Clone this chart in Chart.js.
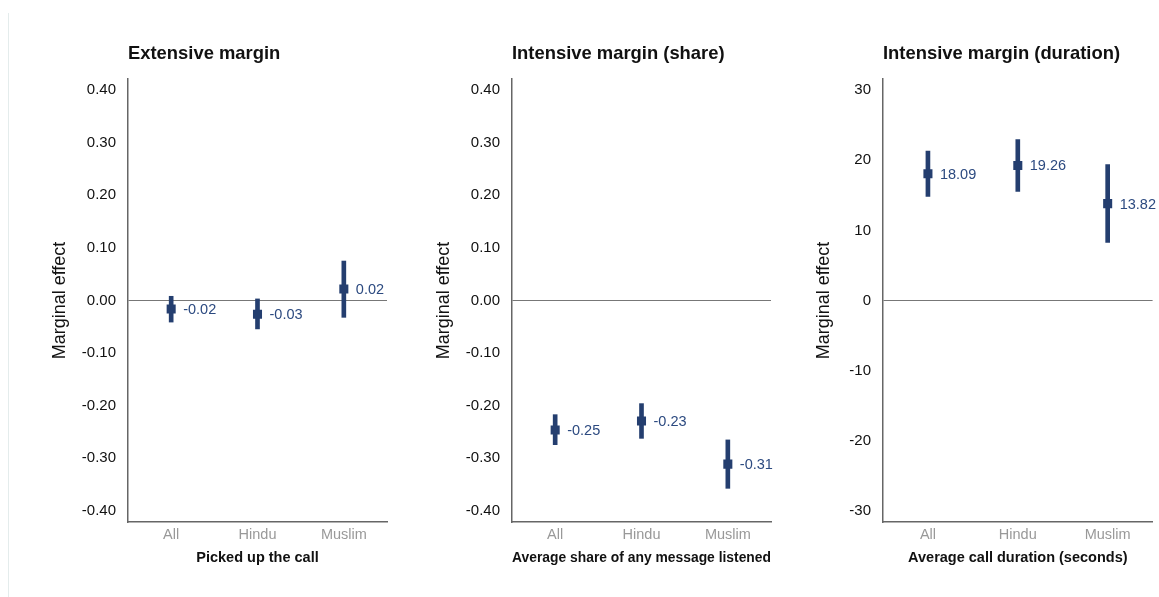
<!DOCTYPE html>
<html>
<head>
<meta charset="utf-8">
<title>Marginal effects by group</title>
<script src="https://cdn.jsdelivr.net/npm/chart.js@4.4.1/dist/chart.umd.min.js"></script>
<style>
  html, body { margin: 0; padding: 0; background: #fff; }
  #wrap { position: relative; width: 1159px; height: 597px; overflow: hidden; }
  #wrap canvas { position: absolute; top: 0; }
  .frame-edge { position: absolute; left: 8px; top: 13px; bottom: 0; border-left: 1px solid #e4ecec; }
</style>
</head>
<body>
<div id="wrap">
  <div class="frame-edge"></div>
  <canvas id="pickupChart" width="348" height="597" style="left:49px"></canvas>
  <canvas id="shareChart" width="348" height="597" style="left:433px"></canvas>
  <canvas id="durationChart" width="346" height="597" style="left:813px"></canvas>
</div>
<script>
// Groups on the x axis
const groups = ['All', 'Hindu', 'Muslim'];

// Picked up the call
const pickupEst = [-0.016, -0.026, 0.022];
const pickupLow = [-0.041, -0.054, -0.032];
const pickupHigh = [0.008, 0.003, 0.075];

// Average share of any message listened
const shareEst = [-0.246, -0.229, -0.311];
const shareLow = [-0.274, -0.262, -0.357];
const shareHigh = [-0.217, -0.196, -0.265];

// Average call duration (seconds)
const durationEst = [18.09, 19.26, 13.82];
const durationLow = [14.86, 15.57, 8.29];
const durationHigh = [21.30, 22.96, 19.39];

// Tick labels
const shareTicks = [0.4, 0.3, 0.2, 0.1, 0, -0.1, -0.2, -0.3, -0.4];
const durationTicks = [30, 20, 10, 0, -10, -20, -30];

const FONT = '"Liberation Sans", Arial, Helvetica, sans-serif';
const NAVY = '#243e6f';
const LABEL_NAVY = '#2c4a80';
const AXIS_GRAY = '#666666';

// draws the panel heading flush with the plot's left edge
const panelTitle = {
  id: 'panelTitle',
  afterDraw(chart, args, opts) {
    const ctx = chart.ctx;
    ctx.save();
    ctx.font = 'bold 18.4px ' + FONT;
    ctx.fillStyle = '#111';
    ctx.textAlign = 'left';
    ctx.textBaseline = 'alphabetic';
    ctx.fillText(opts.text, chart.chartArea.left, 59);
    ctx.restore();
  }
};

// writes each estimate to the right of its marker
const valueLabels = {
  id: 'valueLabels',
  afterDatasetsDraw(chart, args, opts) {
    const meta = chart.getDatasetMeta(0);
    const values = chart.data.datasets[0].data;
    const ctx = chart.ctx;
    ctx.save();
    ctx.font = '14.5px ' + FONT;
    ctx.fillStyle = LABEL_NAVY;
    ctx.textAlign = 'left';
    ctx.textBaseline = 'middle';
    meta.data.forEach((pt, i) => {
      ctx.fillText(values[i].toFixed(2), pt.x + 12, pt.y + 1);
    });
    ctx.restore();
  }
};

function makePanel(id, opts) {
  const ctx = document.getElementById(id).getContext('2d');
  return new Chart(ctx, {
    type: 'bar',
    data: {
      labels: groups,
      datasets: [
        {
          type: 'line',
          data: opts.est,
          showLine: false,
          pointStyle: 'rect',
          pointRadius: 6.4,
          pointBackgroundColor: NAVY,
          pointBorderWidth: 0,
          borderColor: NAVY
        },
        {
          type: 'bar',
          data: opts.low.map((lo, i) => [lo, opts.high[i]]),
          backgroundColor: NAVY,
          borderWidth: 0,
          barThickness: 4
        }
      ]
    },
    options: {
      responsive: false,
      animation: false,
      layout: { padding: { top: 79, right: opts.padRight, bottom: 0, left: 0 } },
      plugins: {
        legend: { display: false },
        tooltip: { enabled: false },
        panelTitle: { text: opts.title }
      },
      scales: {
        x: {
          offset: true,
          grid: { display: false, drawTicks: false },
          border: { display: true, color: AXIS_GRAY, width: 1.5 },
          ticks: { color: '#999', font: { family: FONT, size: 14.5 }, padding: 4, maxRotation: 0 },
          title: {
            display: true,
            text: opts.xTitle,
            color: '#111',
            font: { family: FONT, size: 14.5, weight: 'bold' },
            padding: { top: 0, bottom: 30 }
          },
          afterFit(scale) { scale.height = 75; }
        },
        y: {
          min: -opts.lim,
          max: opts.lim,
          afterBuildTicks(scale) { scale.ticks = opts.ticks.map(v => ({ value: v })); },
          grid: {
            drawTicks: false,
            color: c => (c.tick && c.tick.value === 0 ? '#777' : 'rgba(0,0,0,0)'),
            lineWidth: 1
          },
          border: { display: true, color: AXIS_GRAY, width: 1.5 },
          ticks: {
            color: '#111',
            padding: 12,
            font: { family: FONT, size: 15 },
            callback: v => opts.fmt(v)
          },
          title: {
            display: true,
            text: 'Marginal effect',
            color: '#111',
            font: { family: FONT, size: 18 },
            padding: { top: 0, bottom: 0 }
          },
          afterFit(scale) { scale.width = opts.yWidth; }
        }
      }
    },
    plugins: [panelTitle, valueLabels]
  });
}

makePanel('pickupChart', {
  title: 'Extensive margin',
  xTitle: 'Picked up the call',
  est: pickupEst, low: pickupLow, high: pickupHigh,
  ticks: shareTicks, lim: 0.421, fmt: v => v.toFixed(2),
  yWidth: 79, padRight: 10
});

makePanel('shareChart', {
  title: 'Intensive margin (share)',
  xTitle: 'Average share of any message listened',
  est: shareEst, low: shareLow, high: shareHigh,
  ticks: shareTicks, lim: 0.421, fmt: v => v.toFixed(2),
  yWidth: 79, padRight: 10
});

makePanel('durationChart', {
  title: 'Intensive margin (duration)',
  xTitle: 'Average call duration (seconds)',
  est: durationEst, low: durationLow, high: durationHigh,
  ticks: durationTicks, lim: 31.6, fmt: v => String(v),
  yWidth: 70, padRight: 4
});
</script>
</body>
</html>
